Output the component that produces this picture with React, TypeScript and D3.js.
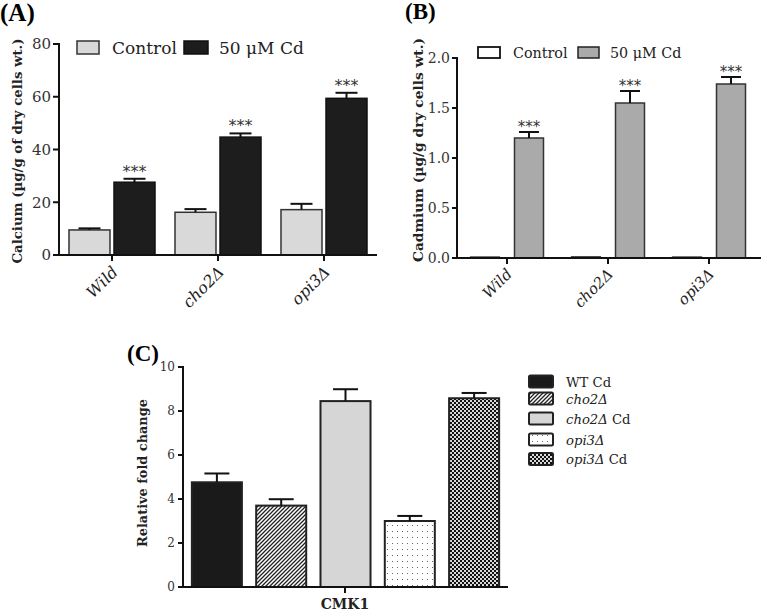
import React from "react";
import * as d3 from "d3";

// ---- Data ----
const strains = ["Wild", "cho2Δ", "opi3Δ"];
const treatments = ["Control", "50 μM Cd"];

const calciumControl = [9.5, 16.2, 17.2];
const calciumControlErr = [0.6, 1.2, 2.2];
const calciumCd = [27.6, 44.7, 59.4];
const calciumCdErr = [1.3, 1.4, 2.1];
const calciumTicks = [0, 20, 40, 60, 80];

const cadmiumControl = [0.01, 0.012, 0.01];
const cadmiumControlErr = [0.004, 0.006, 0.004];
const cadmiumCd = [1.2, 1.55, 1.74];
const cadmiumCdErr = [0.06, 0.12, 0.07];
const cadmiumTicks = [0, 0.5, 1.0, 1.5, 2.0];

const cmk1Series = ["WT Cd", "cho2Δ", "cho2Δ Cd", "opi3Δ", "opi3Δ Cd"];
const cmk1Values = [4.76, 3.7, 8.45, 3.0, 8.58];
const cmk1Err = [0.4, 0.29, 0.54, 0.23, 0.24];
const cmk1Ticks = [0, 2, 4, 6, 8, 10];

const serif = "'DejaVu Serif', serif";
const times = "'Liberation Serif', serif";
const sans = "'DejaVu Sans', sans-serif";

function ErrBar({ x, y0, y1, half, sw = 2 }: any) {
  return (
    <g stroke="#111" strokeWidth={sw}>
      <line x1={x} x2={x} y1={y0} y2={y1} />
      <line x1={x - half} x2={x + half} y1={y1} y2={y1} />
    </g>
  );
}

function StrainLabel({ x, y, name, size }: any) {
  return (
    <text
      transform={`translate(${x},${y}) rotate(-45)`}
      textAnchor="end"
      fontFamily={serif}
      fontStyle="italic"
      fontSize={size}
      fill="#222"
    >
      {name}
    </text>
  );
}

function PanelA() {
  const x = d3.scaleBand().domain(strains).range([59, 377]);
  const xi = d3
    .scaleBand()
    .domain(treatments)
    .range([0, x.bandwidth()])
    .paddingInner(0.089)
    .paddingOuter(0.222);
  const y = d3.scaleLinear().domain([0, 80]).range([255, 44]);
  const bw = xi.bandwidth();
  return (
    <g>
      <text x={0} y={21} fontFamily={times} fontWeight="bold" fontSize={25}>
        (A)
      </text>
      {strains.map((s, i) => {
        const x0 = x(s)! + xi("Control")!;
        const x1 = x(s)! + xi("50 μM Cd")!;
        return (
          <g key={s}>
            <rect x={x0} y={y(calciumControl[i])} width={bw} height={y(0) - y(calciumControl[i])} fill="#d9d9d9" stroke="#333" strokeWidth={1.5} />
            <ErrBar x={x0 + bw / 2} y0={y(calciumControl[i])} y1={y(calciumControl[i] + calciumControlErr[i])} half={11} />
            <rect x={x1} y={y(calciumCd[i])} width={bw} height={y(0) - y(calciumCd[i])} fill="#1d1d1d" stroke="#111" strokeWidth={1.5} />
            <ErrBar x={x1 + bw / 2} y0={y(calciumCd[i])} y1={y(calciumCd[i] + calciumCdErr[i])} half={11} />
            <text x={x1 + bw / 2} y={y(calciumCd[i] + calciumCdErr[i]) - 2} textAnchor="middle" fontFamily={sans} fontSize={16} fill="#333">
              ***
            </text>
          </g>
        );
      })}
      {/* axes */}
      <line x1={59} x2={59} y1={y(80) - 1} y2={y(0) + 1} stroke="#111" strokeWidth={2} />
      <line x1={58} x2={377} y1={y(0)} y2={y(0)} stroke="#111" strokeWidth={2} />
      {calciumTicks.map((t) => (
        <g key={t}>
          <line x1={53} x2={59} y1={y(t)} y2={y(t)} stroke="#111" strokeWidth={2} />
          <text x={51} y={y(t)} dy="0.36em" textAnchor="end" fontFamily={serif} fontSize={15} fill="#333">
            {t}
          </text>
        </g>
      ))}
      {strains.map((s) => {
        const cx = x(s)! + x.bandwidth() / 2;
        return (
          <g key={s}>
            <line x1={cx} x2={cx} y1={y(0)} y2={y(0) + 6} stroke="#111" strokeWidth={2} />
            <StrainLabel x={cx + 7} y={273} name={s} size={16} />
          </g>
        );
      })}
      <text
        transform={`translate(22,${151}) rotate(-90)`}
        textAnchor="middle"
        fontFamily={serif}
        fontWeight="bold"
        fontSize={13.3}
        fill="#222"
      >
        Calcium (µg/g of dry cells  wt.)
      </text>
      {/* legend */}
      <rect x={77} y={41} width={22} height={13} fill="#d9d9d9" stroke="#333" strokeWidth={1.5} />
      <text x={112} y={54} fontFamily={serif} fontSize={17} fill="#222">
        {treatments[0]}
      </text>
      <rect x={184} y={41} width={24} height={13} fill="#1d1d1d" stroke="#111" strokeWidth={1.5} />
      <text x={219} y={54} fontFamily={serif} fontSize={17} fill="#222">
        {treatments[1]}
      </text>
    </g>
  );
}

function PanelB() {
  const x = d3.scaleBand().domain(strains).range([456.5, 759.5]);
  const xi = d3
    .scaleBand()
    .domain(treatments)
    .range([0, x.bandwidth()])
    .paddingInner(0.341)
    .paddingOuter(0.318);
  const y = d3.scaleLinear().domain([0, 2]).range([258, 58]);
  const bw = xi.bandwidth();
  return (
    <g>
      <text x={405} y={19} fontFamily={times} fontWeight="bold" fontSize={23}>
        (B)
      </text>
      {strains.map((s, i) => {
        const x0 = x(s)! + xi("Control")!;
        const x1 = x(s)! + xi("50 μM Cd")!;
        return (
          <g key={s}>
            <rect x={x0} y={y(cadmiumControl[i])} width={bw} height={y(0) - y(cadmiumControl[i])} fill="#fff" stroke="#222" strokeWidth={1.2} />
            <rect x={x1} y={y(cadmiumCd[i])} width={bw} height={y(0) - y(cadmiumCd[i])} fill="#aaaaaa" stroke="#333" strokeWidth={1.5} />
            <ErrBar x={x1 + bw / 2} y0={y(cadmiumCd[i])} y1={y(cadmiumCd[i] + cadmiumCdErr[i])} half={10} />
            <text x={x1 + bw / 2} y={y(cadmiumCd[i] + cadmiumCdErr[i]) - 0.5} textAnchor="middle" fontFamily={sans} fontSize={15} fill="#333">
              ***
            </text>
          </g>
        );
      })}
      <line x1={457} x2={457} y1={y(2) - 1} y2={y(0) + 1} stroke="#111" strokeWidth={2} />
      <line x1={456} x2={761} y1={y(0)} y2={y(0)} stroke="#111" strokeWidth={2} />
      {cadmiumTicks.map((t) => (
        <g key={t}>
          <line x1={452} x2={457} y1={y(t)} y2={y(t)} stroke="#111" strokeWidth={2} />
          <text x={450} y={y(t)} dy="0.36em" textAnchor="end" fontFamily={serif} fontSize={14} fill="#333">
            {d3.format(".1f")(t)}
          </text>
        </g>
      ))}
      {strains.map((s) => {
        const cx = x(s)! + x.bandwidth() / 2;
        return (
          <g key={s}>
            <line x1={cx} x2={cx} y1={y(0)} y2={y(0) + 6} stroke="#111" strokeWidth={2} />
            <StrainLabel x={cx + 6} y={275} name={s} size={15} />
          </g>
        );
      })}
      <text
        transform={`translate(423,${150}) rotate(-90)`}
        textAnchor="middle"
        fontFamily={serif}
        fontWeight="bold"
        fontSize={13.8}
        fill="#222"
      >
        Cadmium (µg/g dry cells wt.)
      </text>
      <rect x={478} y={47} width={22} height={11} fill="#fff" stroke="#111" strokeWidth={1.8} />
      <text x={513} y={58} fontFamily={serif} fontSize={14.3} fill="#222">
        {treatments[0]}
      </text>
      <rect x={578} y={47} width={21} height={11} fill="#aaaaaa" stroke="#222" strokeWidth={1.5} />
      <text x={610} y={58} fontFamily={serif} fontSize={14.3} fill="#222">
        {treatments[1]}
      </text>
    </g>
  );
}

const cmk1Fills = ["#1a1a1a", "url(#hatch)", "#d6d6d6", "url(#dots)", "url(#checker)"];

function SeriesName({ name }: any) {
  if (name === "WT Cd") return <tspan>WT Cd</tspan>;
  const parts = name.split(" ");
  return (
    <>
      <tspan fontStyle="italic">{parts[0]}</tspan>
      {parts[1] ? <tspan> {parts[1]}</tspan> : null}
    </>
  );
}

function PanelC() {
  const x = d3.scaleBand().domain(cmk1Series).range([183, 508]).paddingInner(0.222).paddingOuter(0.138);
  const y = d3.scaleLinear().domain([0, 10]).range([587, 367]);
  const bw = x.bandwidth();
  const legendY = [381.5, 398.5, 418.5, 439.5, 459];
  return (
    <g>
      <text x={127} y={361} fontFamily={times} fontWeight="bold" fontSize={23}>
        (C)
      </text>
      {cmk1Series.map((s, i) => (
        <g key={s}>
          <rect x={x(s)!} y={y(cmk1Values[i])} width={bw} height={y(0) - y(cmk1Values[i])} fill={cmk1Fills[i]} stroke="#222" strokeWidth={2} />
          <ErrBar x={x(s)! + bw / 2} y0={y(cmk1Values[i])} y1={y(cmk1Values[i] + cmk1Err[i])} half={12.5} />
        </g>
      ))}
      <line x1={183} x2={183} y1={y(10) - 1} y2={y(0) + 1} stroke="#111" strokeWidth={2} />
      <line x1={182} x2={508} y1={y(0)} y2={y(0)} stroke="#111" strokeWidth={2} />
      {cmk1Ticks.map((t) => (
        <g key={t}>
          <line x1={178} x2={183} y1={y(t)} y2={y(t)} stroke="#111" strokeWidth={2} />
          <text x={175} y={y(t)} dy="0.36em" textAnchor="end" fontFamily={serif} fontSize={12} fill="#333">
            {t}
          </text>
        </g>
      ))}
      <line x1={345} x2={345} y1={y(0)} y2={y(0) + 6} stroke="#111" strokeWidth={2} />
      <text x={345} y={609} textAnchor="middle" fontFamily={serif} fontWeight="bold" fontSize={14} fill="#222">
        CMK1
      </text>
      <text
        transform={`translate(147,${473}) rotate(-90)`}
        textAnchor="middle"
        fontFamily={serif}
        fontWeight="bold"
        fontSize={12.9}
        fill="#222"
      >
        Relative fold change
      </text>
      {cmk1Series.map((s, i) => (
        <g key={s}>
          <rect x={529} y={legendY[i] - 6} width={24} height={12} rx={1.5} fill={cmk1Fills[i]} stroke="#222" strokeWidth={2} />
          <text x={566} y={legendY[i] + 5} fontFamily={serif} fontSize={13.2} fill="#222">
            <SeriesName name={s} />
          </text>
        </g>
      ))}
    </g>
  );
}

export default function App() {
  return (
    <svg
      width={761}
      height={614}
      viewBox="0 0 761 614"
      style={{ position: "absolute", left: 0, top: 0, background: "#fff" }}
    >
      <defs>
        <pattern id="hatch" patternUnits="userSpaceOnUse" width={4} height={4}>
          <rect width={4} height={4} fill="#fff" />
          <path d="M-1,1 L1,-1 M0,4 L4,0 M3,5 L5,3" stroke="#222" strokeWidth={1.3} />
        </pattern>
        <pattern id="dots" patternUnits="userSpaceOnUse" width={5} height={6}>
          <rect width={5} height={6} fill="#fff" />
          <rect x={2} y={3} width={1} height={1} fill="#666" />
        </pattern>
        <pattern id="checker" patternUnits="userSpaceOnUse" width={4} height={4}>
          <rect width={4} height={4} fill="#d8d8d8" />
          <rect x={0} y={0} width={2} height={2} fill="#111" />
          <rect x={2} y={2} width={2} height={2} fill="#111" />
        </pattern>
      </defs>
      <rect width={761} height={614} fill="#fff" />
      <PanelA />
      <PanelB />
      <PanelC />
    </svg>
  );
}
